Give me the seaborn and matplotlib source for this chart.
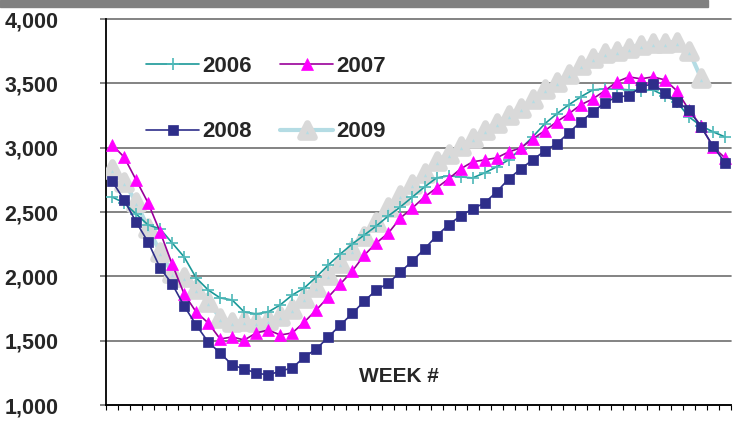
import numpy as np
import pandas as pd
import matplotlib
matplotlib.use('Agg')
import matplotlib.pyplot as plt
from matplotlib.patches import Rectangle
from matplotlib.markers import MarkerStyle
import seaborn as sns

weeks = list(range(1, 53))

y2006 = [2617, 2571, 2485, 2400, 2369, 2260, 2151, 1988, 1894, 1832, 1816, 1723, 1708,
         1723, 1778, 1855, 1910, 1995, 2088, 2174, 2252, 2322, 2392, 2470, 2540, 2617,
         2695, 2765, 2781, 2773, 2765, 2804, 2851, 2905, 2991, 3084, 3185, 3263, 3333,
         3395, 3449, 3457, 3457, 3449, 3442, 3449, 3403, 3356, 3239, 3170, 3123, 3084]
y2007 = [3022, 2928, 2750, 2571, 2345, 2096, 1863, 1723, 1638, 1513, 1529, 1505, 1560,
         1583, 1544, 1560, 1645, 1739, 1840, 1941, 2042, 2166, 2260, 2337, 2454, 2532,
         2617, 2687, 2757, 2835, 2890, 2905, 2921, 2967, 2998, 3068, 3131, 3201, 3263,
         3333, 3379, 3442, 3512, 3550, 3535, 3550, 3527, 3442, 3294, 3170, 3006, 2921]
y2008 = [2742, 2594, 2423, 2267, 2065, 1941, 1770, 1622, 1490, 1404, 1311, 1280, 1249,
         1233, 1264, 1288, 1373, 1435, 1529, 1622, 1712, 1809, 1894, 1949, 2034, 2120,
         2213, 2314, 2400, 2470, 2524, 2571, 2656, 2757, 2835, 2905, 2975, 3030, 3115,
         3201, 3278, 3348, 3395, 3403, 3473, 3496, 3426, 3356, 3294, 3162, 3014, 2882]
y2009 = [2835, 2734, 2578, 2376, 2190, 2026, 1995, 1902, 1801, 1677, 1645, 1653, 1645,
         1661, 1692, 1746, 1832, 1918, 2011, 2104, 2205, 2314, 2423, 2540, 2633, 2718,
         2804, 2897, 2952, 3014, 3076, 3138, 3193, 3255, 3309, 3379, 3457, 3512, 3574,
         3644, 3698, 3737, 3753, 3776, 3799, 3815, 3815, 3823, 3753, 3543]

yticks = [1000, 1500, 2000, 2500, 3000, 3500, 4000]

sns.set_style('white')
plt.rcParams['font.family'] = ['Liberation Sans', 'DejaVu Sans']
plt.rcParams['font.weight'] = 'bold'

fig = plt.figure(figsize=(7.43, 4.23), dpi=100)
ax = fig.add_axes([106 / 743, 1 - 405 / 423, 625 / 743, 386 / 423])

# grey band along the top of the picture
fig.patches.append(Rectangle((0, 1 - 7 / 423), 708 / 743, 7 / 423,
                             transform=fig.transFigure, color='#808080', zorder=0))

tri_round = MarkerStyle('^', joinstyle='round')

df09 = pd.DataFrame({'week': weeks[:len(y2009)], 'v': y2009})
sns.lineplot(data=df09, x='week', y='v', ax=ax, label='2009', color='#B4DCE4', lw=3,
             marker=tri_round, markersize=10, markerfacecolor='#B4DCE4',
             markeredgecolor='#D9D9D9', markeredgewidth=4.8, zorder=3)
sns.lineplot(x=weeks, y=y2006, ax=ax, label='2006', color='#1A9898', lw=1.2,
             marker='+', markersize=9, markeredgecolor='#4DB8B8', markeredgewidth=1.2,
             zorder=4)
sns.lineplot(x=weeks, y=y2007, ax=ax, label='2007', color='#990099', lw=1.2,
             marker='^', markersize=9, markerfacecolor='#FF00FF',
             markeredgecolor='#FF00FF', markeredgewidth=0.5, zorder=5)
sns.lineplot(x=weeks, y=y2008, ax=ax, label='2008', color='#2E2E8A', lw=1.2,
             marker='s', markersize=7.5, markerfacecolor='#2E2E8A',
             markeredgecolor='#2E2E8A', markeredgewidth=0.5, zorder=6)

ax.set_xlim(0.5, 52.5)
ax.set_ylim(1000, 4000)
ax.set_xticks(np.arange(0.5, 53, 1))
ax.set_xticklabels([])
ax.set_yticks(yticks)
ax.set_yticklabels([f'{v:,}' for v in yticks], fontsize=15.5, fontweight='bold')
ax.set_xlabel('')
ax.set_ylabel('')

ax.yaxis.grid(True, color='#6E6E6E', lw=1.2)
for gl in ax.get_ygridlines():
    gl.set_clip_on(False)
ax.tick_params(axis='y', direction='out', length=4.3, width=1.2, color='#6E6E6E', pad=30,
               left=True)
ax.tick_params(axis='x', direction='out', length=3.6, width=0.8, color='black',
               bottom=True)

for s in ['top', 'right']:
    ax.spines[s].set_visible(False)
ax.spines['left'].set_color('black')
ax.spines['left'].set_linewidth(1.3)
ax.spines['bottom'].set_color('black')
ax.spines['bottom'].set_linewidth(1.3)

ax.text(0.469, 0.075, 'WEEK #', transform=ax.transAxes, ha='center', va='center',
        fontsize=15, fontweight='bold')

h, l = ax.get_legend_handles_labels()
order = [l.index('2006'), l.index('2008'), l.index('2007'), l.index('2009')]
ax.legend([h[i] for i in order], [l[i] for i in order], ncol=2, frameon=False,
          loc='upper left', bbox_to_anchor=(146 / 743, 1 - 56 / 423),
          bbox_transform=fig.transFigure, borderpad=0, borderaxespad=0,
          prop={'size': 16, 'weight': 'bold'}, handlelength=2.4, handletextpad=0.15,
          labelspacing=2.0, columnspacing=1.25)

plt.savefig('out.png', dpi=100)
